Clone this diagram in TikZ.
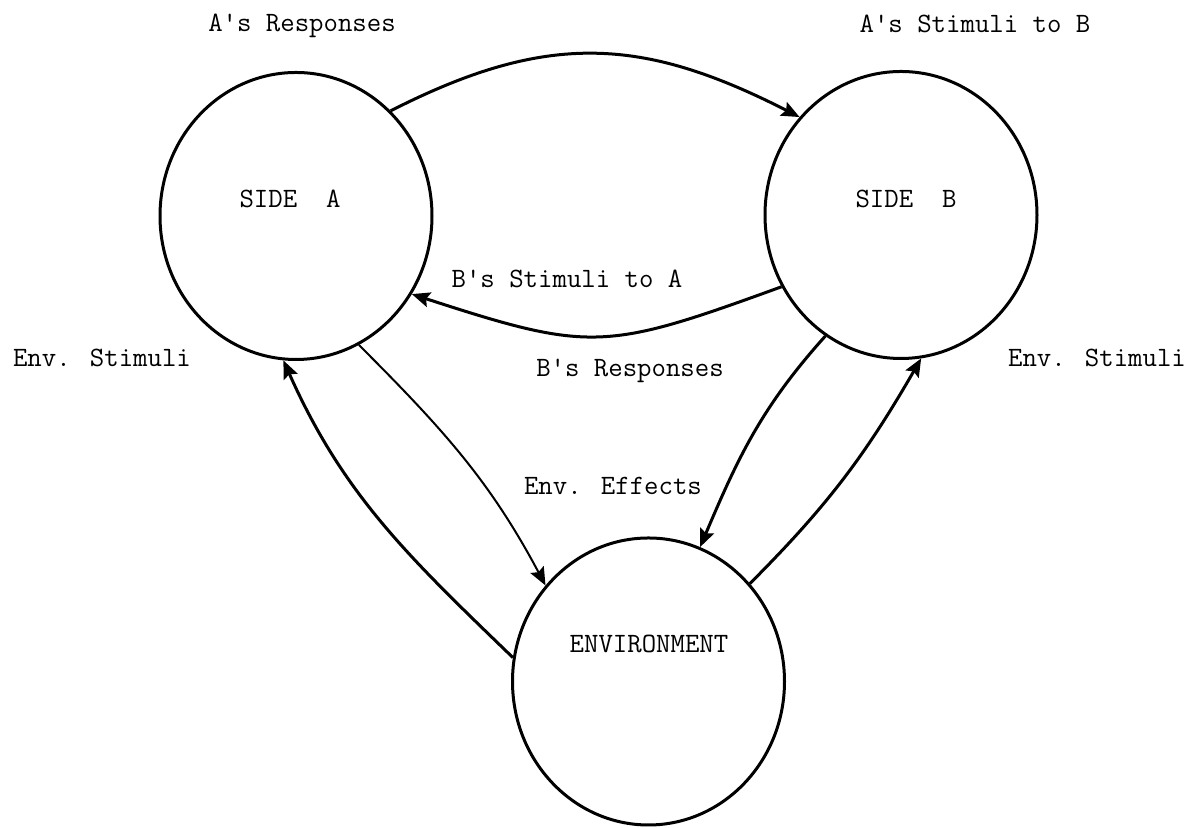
\documentclass[tikz,border=0pt]{standalone}
\usepackage{fontspec}
\newcommand\twfont{\ttfamily\fontsize{14}{16}\selectfont\addfontfeature{FakeBold=3}}
\usetikzlibrary{shapes.geometric,arrows.meta}
\begin{document}
\begin{tikzpicture}[x=0.5pt,y=0.5pt,
  side/.style={draw,ellipse,minimum width=136pt,minimum height=143.5pt,inner sep=0pt,line width=1.5pt},
  lbl/.style={anchor=base,font=\twfont,inner sep=0pt},
  link/.style={line width=1.5pt,-{Stealth[length=9pt,width=7.5pt,inset=1.5pt]}}]
\useasboundingbox (0,0) rectangle (1191,828);
\node[side] (A) at (296,612) {};
\node[side] (B) at (901,613) {};
\node[side] (E) at (648.5,146.5) {};
\node[lbl] (tA) at (290,620) {SIDE~~A};
\node[lbl] (tB) at (906,620) {SIDE~~B};
\node[lbl] (tE) at (649,175) {ENVIRONMENT};
\node[lbl] (t1) at (302,796) {A's Responses};
\node[lbl] (t2) at (975,795) {A's Stimuli to B};
\node[lbl] (t3) at (567,540) {B's Stimuli to A};
\node[lbl] (t4) at (630,451) {B's Responses};
\node[lbl] (t5) at (102,461) {Env. Stimuli};
\node[lbl] (t6) at (1097,461) {Env. Stimuli};
\node[lbl] (t7) at (613,333) {Env. Effects};
\draw[link] (A.48) to[out=27,in=153,looseness=1.1] (B.136);
\draw[link] (B.211) to[out=200,in=-18,looseness=1.3] (A.-34);
\draw[link,line width=1.0pt] (A.-64) to[out=-45,in=118] (E.137);
\draw[link] (E.170) to[out=136,in=-66] (A.265);
\draw[link] (B.238) to[out=228,in=67] (E.69);
\draw[link] (E.44) to[out=45,in=240] (B.278);
\end{tikzpicture}
\end{document}
